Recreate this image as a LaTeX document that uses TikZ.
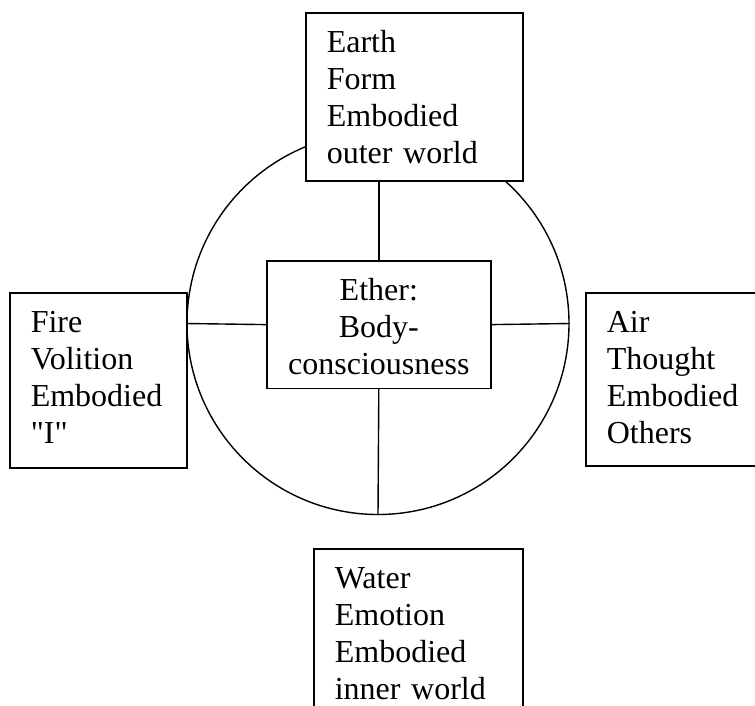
\documentclass[tikz,border=0pt]{standalone}
\usepackage{fontspec}
\setmainfont{Liberation Serif}[Ligatures=TeXOff]
\usetikzlibrary{positioning}
\newcommand{\elemfont}{\fontsize{32pt}{36.8pt}\selectfont}
\newcommand{\topstrut}{\rule{0pt}{40pt}}
\newcommand{\botstrut}[1]{\rule[-#1]{0pt}{#1}}

\begin{document}
\begin{tikzpicture}[x=1pt,y=-1pt,
    elem/.style={draw,line width=1.6pt,fill=white,font=\elemfont,align=left,
      inner xsep=21pt,inner ysep=0pt,anchor=north west},
    spoke/.style={line width=1.4pt}]
    \useasboundingbox (0,0) rectangle (755,705);
    \clip (0,0) rectangle (755,705);

    \node[circle,draw,line width=1.4pt,minimum size=382pt,inner sep=0pt] (RING) at (378,323.5) {};

    \node[elem,text width=175pt] (EARTH) at (305,12) {\topstrut Earth\\Form\\Embodied\\outer world\botstrut{18pt}};
    \node[elem,text width=208pt,align=center,inner xsep=8pt] (ETHER) at (266,260) {\topstrut Ether:\\Body-\\consciousness\botstrut{14pt}};
    \node[elem,text width=135pt] (FIRE) at (9,292) {\topstrut Fire\\Volition\\Embodied\\"I"\botstrut{25pt}};
    \node[elem,text width=143pt] (AIR) at (585,292) {\topstrut Air\\Thought\\Embodied\\Others\botstrut{23pt}};
    \node[elem,text width=167pt] (WATER) at (313,548) {\topstrut Water\\Emotion\\Embodied\\inner world\botstrut{20pt}};

    \draw[spoke] (ETHER.north) -- (ETHER.north |- EARTH.south);
    \draw[spoke] (ETHER.south) -- (RING.south);
    \draw[spoke] (ETHER.west) -- (RING.west);
    \draw[spoke] (ETHER.east) -- (RING.east);
\end{tikzpicture}
\end{document}
